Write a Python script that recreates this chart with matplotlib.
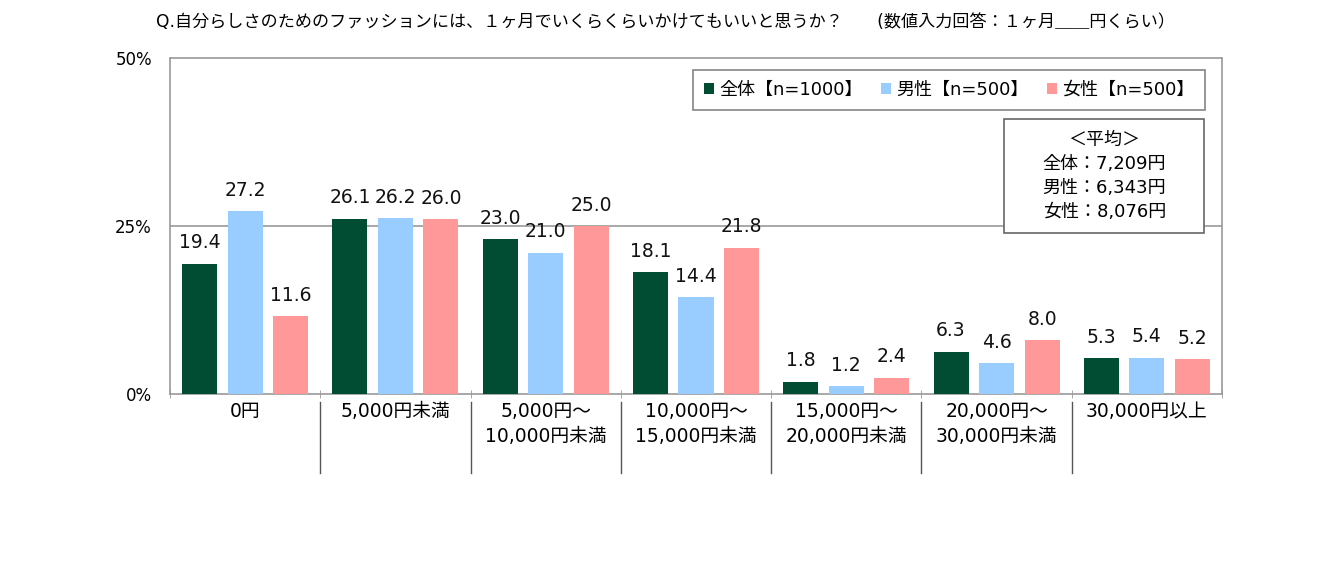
import matplotlib
matplotlib.use("Agg")
import matplotlib.pyplot as plt
from matplotlib.patches import Rectangle
from matplotlib.lines import Line2D
import numpy as np

plt.rcParams['font.family'] = ['DejaVu Sans', 'Noto Sans CJK JP']

categories = ["0円", "5,000円未満", "5,000円～\n10,000円未満", "10,000円～\n15,000円未満",
              "15,000円～\n20,000円未満", "20,000円～\n30,000円未満", "30,000円以上"]
series_names = ["全体【n=1000】", "男性【n=500】", "女性【n=500】"]
total = [19.4, 26.1, 23.0, 18.1, 1.8, 6.3, 5.3]
male = [27.2, 26.2, 21.0, 14.4, 1.2, 4.6, 5.4]
female = [11.6, 26.0, 25.0, 21.8, 2.4, 8.0, 5.2]
yticks = [0, 25, 50]
ytick_labels = ["0%", "25%", "50%"]
title = "Q.自分らしさのためのファッションには、１ヶ月でいくらくらいかけてもいいと思うか？　　(数値入力回答：１ヶ月＿＿円くらい）"
avg_text = "＜平均＞\n全体：7,209円\n男性：6,343円\n女性：8,076円"

colors = ["#004d33", "#99ccff", "#ff9999"]

fig = plt.figure(figsize=(13.44, 5.8), dpi=100)
ax = fig.add_axes([170/1344, 1-394/580, 1052/1344, 336/580])

x = np.arange(len(categories))
offs = [-0.303, 0, 0.303]
w = 0.233
for vals, c, o, name in zip([total, male, female], colors, offs, series_names):
    bars = ax.bar(x + o, vals, width=w, color=c, label=name, zorder=3)
    for b, v in zip(bars, vals):
        ax.text(b.get_x() + b.get_width()/2, v + 1.7, f"{v:.1f}", ha='center', va='bottom',
                fontsize=13.5, color='#111111', zorder=4)

ax.set_xlim(-0.5, len(categories) - 0.5)
ax.set_ylim(0, 50)
ax.set_yticks(yticks)
ax.set_yticklabels(ytick_labels, fontsize=12)
ax.tick_params(axis='y', length=0, pad=13)
ax.axhline(25, color='#999999', lw=1.2, zorder=1)
for s in ax.spines.values():
    s.set_color('#999999')
    s.set_linewidth(1.2)

ax.set_xticks(x)
ax.set_xticklabels(categories, fontsize=13.5, linespacing=1.4, va='top')
ax.tick_params(axis='x', length=0, pad=6)
ax.set_xticks(np.arange(len(categories) + 1) - 0.5, minor=True)
ax.tick_params(axis='x', which='minor', length=6, direction='inout', color='#999999')

for b in np.arange(1, len(categories)) - 0.5:
    ax.add_line(Line2D([b, b], [-0.025, -0.235], transform=ax.get_xaxis_transform(),
                       color='#555555', lw=1, clip_on=False))

leg = ax.legend(loc='upper right', bbox_to_anchor=(0.984, 0.964), borderaxespad=0,
                ncol=3, fontsize=13, frameon=True, fancybox=False, handlelength=0.55,
                handleheight=0.55, handletextpad=0.3, columnspacing=1.0, borderpad=0.6)
leg.get_frame().set_edgecolor('#666666')
leg.get_frame().set_linewidth(1.2)

ax.add_patch(Rectangle((0.793, 0.479), 0.19, 0.339, transform=ax.transAxes, fill=True,
                       facecolor='white', edgecolor='#666666', lw=1.2, zorder=5, clip_on=False))
ax.text(0.888, 0.649, avg_text, transform=ax.transAxes, ha='center', va='center',
        fontsize=13, linespacing=1.45, zorder=6)

fig.text(665/1344, 1-22/580, title, ha='center', va='center', fontsize=12.3)

fig.savefig("out.png", dpi=100, facecolor='white')
